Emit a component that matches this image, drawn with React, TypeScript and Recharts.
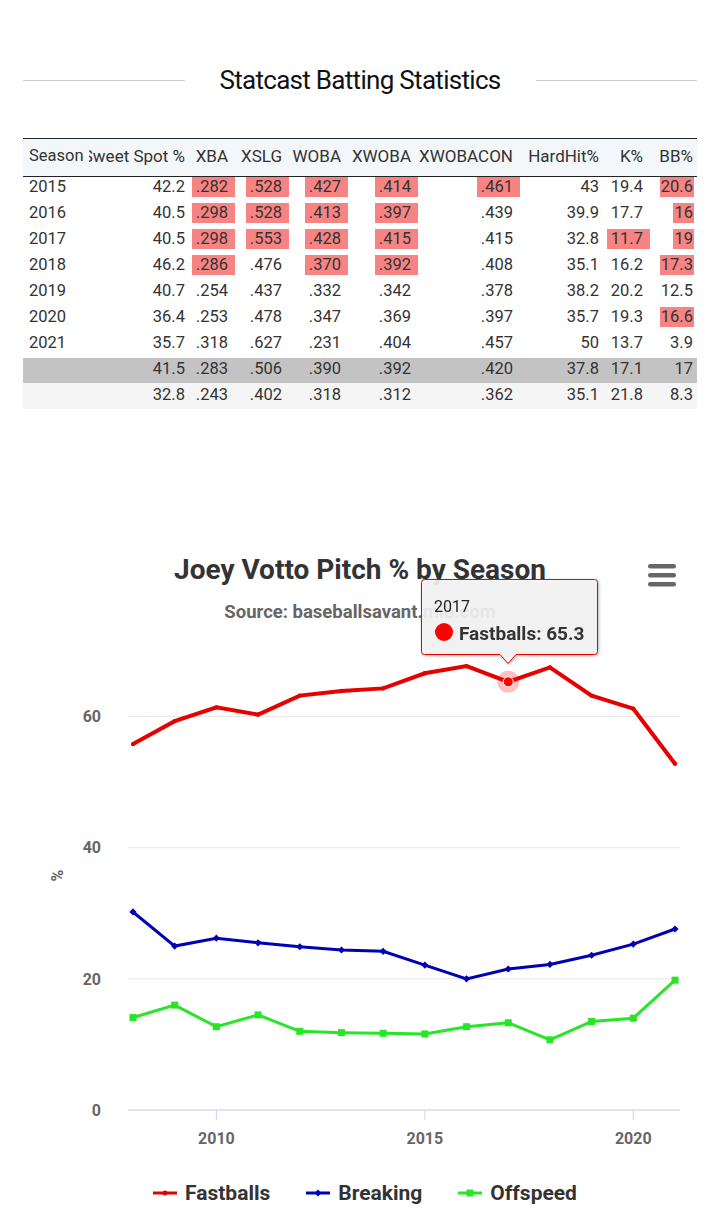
import React from "react";
import { LineChart, Line, XAxis, YAxis, CartesianGrid, Tooltip, Legend } from "recharts";

// ---- chart data ----
const seasons = [2008, 2009, 2010, 2011, 2012, 2013, 2014, 2015, 2016, 2017, 2018, 2019, 2020, 2021];
const fastballs = [55.8, 59.3, 61.4, 60.3, 63.2, 63.9, 64.3, 66.6, 67.7, 65.3, 67.5, 63.2, 61.2, 52.8];
const breaking = [30.2, 25.0, 26.2, 25.5, 24.9, 24.4, 24.2, 22.1, 20.0, 21.5, 22.2, 23.6, 25.3, 27.6];
const offspeed = [14.1, 16.0, 12.7, 14.5, 12.0, 11.8, 11.7, 11.6, 12.7, 13.3, 10.7, 13.5, 14.0, 19.8];
const seriesOrder = ["fastballs", "breaking", "offspeed"];
const yTicks = [0, 20, 40, 60];
const xTicks = [2010, 2015, 2020];

// ---- table data ----
const tableSeasons = ["2015", "2016", "2017", "2018", "2019", "2020", "2021", "", ""];
const sweetSpot = ["42.2", "40.5", "40.5", "46.2", "40.7", "36.4", "35.7", "41.5", "32.8"];
const xba = [".282", ".298", ".298", ".286", ".254", ".253", ".318", ".283", ".243"];
const xslg = [".528", ".528", ".553", ".476", ".437", ".478", ".627", ".506", ".402"];
const woba = [".427", ".413", ".428", ".370", ".332", ".347", ".231", ".390", ".318"];
const xwoba = [".414", ".397", ".415", ".392", ".342", ".369", ".404", ".392", ".312"];
const xwobacon = [".461", ".439", ".415", ".408", ".378", ".397", ".457", ".420", ".362"];
const hardHit = ["43", "39.9", "32.8", "35.1", "38.2", "35.7", "50", "37.8", "35.1"];
const kPct = ["19.4", "17.7", "11.7", "16.2", "20.2", "19.3", "13.7", "17.1", "21.8"];
const bbPct = ["20.6", "16", "19", "17.3", "12.5", "16.6", "3.9", "17", "8.3"];

const FONT = "Roboto, 'Open Sans', sans-serif";
const RED = "#e60000";
const BLUE = "#0000b4";
const GREEN = "#26e626";

const chartData = seasons.map((s, i) => ({
  season: s,
  fastballs: fastballs[i],
  breaking: breaking[i],
  offspeed: offspeed[i],
}));

const columns = [
  { header: "Sweet Spot %", values: sweetSpot, right: 185, marks: [] as number[] },
  { header: "XBA", values: xba, right: 228, marks: [0, 1, 2, 3] },
  { header: "XSLG", values: xslg, right: 282, marks: [0, 1, 2] },
  { header: "WOBA", values: woba, right: 341, marks: [0, 1, 2, 3] },
  { header: "XWOBA", values: xwoba, right: 411, marks: [0, 1, 2, 3] },
  { header: "XWOBACON", values: xwobacon, right: 513, marks: [0] },
  { header: "HardHit%", values: hardHit, right: 599, marks: [] as number[] },
  { header: "K%", values: kPct, right: 643, marks: [2] },
  { header: "BB%", values: bbPct, right: 693, marks: [0, 1, 2, 3, 5], last: true },
];

function StatsTable() {
  const rowY = (i: number) => 175 + 26 * i;
  return (
    <div style={{ position: "absolute", left: 0, top: 0, width: 720, height: 420, fontFamily: FONT, color: "#333" }}>
      <div style={{ position: "absolute", left: 23, top: 80, width: 162, height: 1, background: "#ccc" }} />
      <div style={{ position: "absolute", left: 536, top: 80, width: 161, height: 1, background: "#ccc" }} />
      <div style={{ position: "absolute", left: 0, width: 720, top: 62, textAlign: "center", fontSize: 26, letterSpacing: -0.7, lineHeight: "36px", fontWeight: 400, color: "#111" }}>
        Statcast Batting Statistics
      </div>
      {/* header */}
      <div style={{ position: "absolute", left: 23, top: 138, width: 674, height: 37, background: "#f4f7f9", borderTop: "1px solid #222", borderBottom: "1px solid #222" }} />
      <div style={{ position: "absolute", left: 23, top: 358, width: 674, height: 25, background: "#c3c3c3" }} />
      <div style={{ position: "absolute", left: 23, top: 383, width: 674, height: 26, background: "#f5f5f5" }} />
      <div style={{ position: "absolute", left: 29, top: 146, fontSize: 16.5, lineHeight: "20px" }}>Season</div>
      {columns.map((c, ci) => (
        <div key={"h" + ci} style={{ position: "absolute", left: ci === 0 ? 89 : c.right - 120, width: ci === 0 ? c.right - 89 : 120, top: 146, height: 20, fontSize: 17, lineHeight: "20px", overflow: "hidden", display: "flex", justifyContent: "flex-end", whiteSpace: "nowrap" }}>
          <span>{c.header}</span>
        </div>
      ))}
      {tableSeasons.map((s, ri) => (
        <div key={"s" + ri} style={{ position: "absolute", left: 29, top: rowY(ri) + 2, fontSize: 16.5, lineHeight: "20px" }}>{s}</div>
      ))}
      {columns.map((c, ci) =>
        c.values.map((v, ri) => {
          const hit = c.marks.includes(ri);
          const pl = c.last ? 1 : 4;
          const pr = c.last ? 1 : 7;
          return (
            <div key={ci + "-" + ri} style={{ position: "absolute", left: c.right - 100, width: 100, top: rowY(ri) + 2, height: 20, display: "flex", justifyContent: "flex-end", fontSize: 16.5, lineHeight: "20px" }}>
              <span style={{ background: hit ? "#f78383" : "transparent", padding: `0 ${pr}px 0 ${pl}px`, marginRight: -pr }}>{v}</span>
            </div>
          );
        })
      )}
    </div>
  );
}

function FastDot(props: any) {
  const { cx, cy, index } = props;
  return <circle key={"f" + index} cx={cx} cy={cy} r={2.2} fill={RED} />;
}
function BreakDot(props: any) {
  const { cx, cy, index } = props;
  const s = 3.6;
  return <path key={"b" + index} d={`M${cx},${cy - s}L${cx + s},${cy}L${cx},${cy + s}L${cx - s},${cy}Z`} fill={BLUE} />;
}
function OffDot(props: any) {
  const { cx, cy, index } = props;
  return <rect key={"o" + index} x={cx - 3.5} y={cy - 3.5} width={7} height={7} fill={GREEN} />;
}
function ActiveFast(props: any) {
  const { cx, cy } = props;
  return (
    <g>
      <circle cx={cx} cy={cy} r={11} fill="#ff0000" fillOpacity={0.25} />
      <circle cx={cx} cy={cy} r={5} fill="#ff0000" stroke="#fff" strokeWidth={1} />
    </g>
  );
}

function PitchTooltip({ active, payload, label }: any) {
  if (!active || !payload || !payload.length) return null;
  const item = payload.find((p: any) => p.dataKey === "fastballs");
  if (!item) return null;
  return (
    <svg width={182} height={92} style={{ overflow: "visible", display: "block", filter: "drop-shadow(1px 1px 1.5px rgba(0,0,0,0.3))" }}>
      <path
        d="M3.5,0.5 H173.5 Q176.5,0.5 176.5,3.5 V72.5 Q176.5,75.5 173.5,75.5 H95 L87,84.5 L79,75.5 H3.5 Q0.5,75.5 0.5,72.5 V3.5 Q0.5,0.5 3.5,0.5 Z"
        fill="rgba(247,247,247,0.9)"
        stroke={RED}
        strokeWidth={1}
      />
      <text x={13} y={33} fontFamily={FONT} fontSize={16} fill="#222">{label}</text>
      <circle cx={23} cy={53} r={9} fill="#ff0000" />
      <text x={38} y={61} fontFamily={FONT} fontSize={19} fontWeight={700} fill="#333">
        {`Fastballs: ${item.value}`}
      </text>
    </svg>
  );
}

const markerFor: Record<string, (c: string) => React.ReactNode> = {
  fastballs: (c) => <circle cx={12} cy={8} r={2.5} fill={c} />,
  breaking: (c) => <path d="M12,4.5L15.5,8L12,11.5L8.5,8Z" fill={c} />,
  offspeed: (c) => <rect x={8.5} y={4.5} width={7} height={7} fill={c} />,
};

function PitchLegend({ payload }: any) {
  const items = [...(payload || [])].sort(
    (a: any, b: any) => seriesOrder.indexOf(a.dataKey) - seriesOrder.indexOf(b.dataKey)
  );
  return (
    <div style={{ height: 30, display: "flex", justifyContent: "center", alignItems: "center", fontFamily: FONT }}>
      {items.map((p: any, i: number) => (
        <div key={p.value} style={{ display: "flex", alignItems: "center", marginLeft: i === 0 ? 0 : 36 }}>
          <svg width={24} height={16}>
            <line x1={0} y1={8} x2={24} y2={8} stroke={p.color} strokeWidth={3} />
            {markerFor[p.dataKey](p.color)}
          </svg>
          <span style={{ marginLeft: 8, fontSize: 21, fontWeight: 700, color: "#333" }}>{p.value}</span>
        </div>
      ))}
    </div>
  );
}

function YLabel(props: any) {
  const { viewBox } = props;
  const x = viewBox.x + 7;
  const y = viewBox.y + viewBox.height / 2 - 5;
  return (
    <text x={x} y={y} transform={`rotate(-90 ${x} ${y})`} textAnchor="middle" dominantBaseline="central" fontFamily={FONT} fontSize={16} fontWeight={700} fill="#666">
      %
    </text>
  );
}

function PitchChart() {
  return (
    <div style={{ position: "absolute", left: 0, top: 540, width: 720, height: 668 }}>
      <div style={{ position: "absolute", left: 0, top: 10, width: 720, textAlign: "center", fontFamily: FONT, fontSize: 28, fontWeight: 700, color: "#333", lineHeight: "40px" }}>
        Joey Votto Pitch % by Season
      </div>
      <div style={{ position: "absolute", left: 0, top: 60, width: 720, textAlign: "center", fontFamily: FONT, fontSize: 18.5, fontWeight: 700, color: "#666", lineHeight: "24px" }}>
        Source: baseballsavant.mlb.com
      </div>
      <svg width={30} height={26} style={{ position: "absolute", left: 647, top: 22 }}>
        <rect x={1} y={2} width={28} height={4.5} rx={2.2} fill="#666" />
        <rect x={1} y={11} width={28} height={4.5} rx={2.2} fill="#666" />
        <rect x={1} y={20} width={28} height={4.5} rx={2.2} fill="#666" />
      </svg>
      <LineChart width={720} height={668} data={chartData} margin={{ top: 111, right: 40, bottom: 0, left: 50 }}>
        <CartesianGrid vertical={false} stroke="#e6e6e6" horizontalValues={yTicks} />
        <XAxis
          dataKey="season"
          type="number"
          domain={[2008, 2021]}
          ticks={xTicks}
          padding={{ left: 5, right: 5 }}
          height={68}
          stroke="#ccd6eb"
          tickSize={10}
          tickMargin={13}
          tick={{ fill: "#666", fontSize: 16, fontWeight: 700, fontFamily: FONT }}
        />
        <YAxis
          domain={[0, 70]}
          ticks={yTicks}
          width={78}
          axisLine={false}
          tickLine={false}
          tickSize={0}
          tickMargin={27}
          tick={{ fill: "#666", fontSize: 16, fontWeight: 700, fontFamily: FONT }}
          label={<YLabel />}
        />
        <Tooltip
          active={true}
          defaultIndex={9}
          cursor={false}
          isAnimationActive={false}
          position={{ x: 421, y: 39 }}
          wrapperStyle={{ outline: "none", zIndex: 5 }}
          content={<PitchTooltip />}
        />
        <Legend verticalAlign="bottom" content={<PitchLegend />} />
        <Line dataKey="fastballs" name="Fastballs" stroke={RED} strokeWidth={4} dot={FastDot} activeDot={ActiveFast} isAnimationActive={false} />
        <Line dataKey="breaking" name="Breaking" stroke={BLUE} strokeWidth={3} dot={BreakDot} activeDot={false} isAnimationActive={false} />
        <Line dataKey="offspeed" name="Offspeed" stroke={GREEN} strokeWidth={3} dot={OffDot} activeDot={false} isAnimationActive={false} />
      </LineChart>
    </div>
  );
}

export default function App() {
  return (
    <div style={{ position: "absolute", left: 0, top: 0, width: 720, height: 1208, background: "#fff", overflow: "hidden" }}>
      <StatsTable />
      <PitchChart />
    </div>
  );
}
